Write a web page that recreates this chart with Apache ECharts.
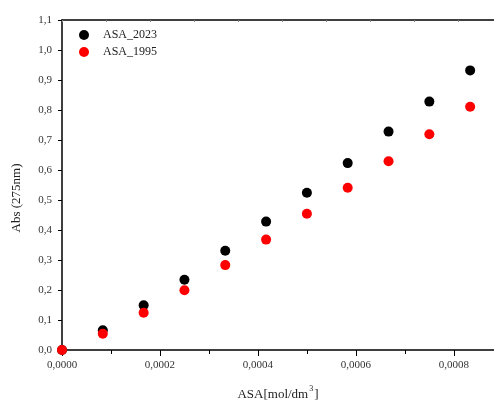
<!DOCTYPE html>
<html lang="en">
<head>
    <meta charset="utf-8">
    <title>ASA Abs</title>
    <script src="https://cdn.jsdelivr.net/npm/echarts@6/dist/echarts.min.js"></script>
    <style>
        html, body { margin: 0; padding: 0; background: #fff; overflow: hidden; }
        #main { width: 494px; height: 400px; }
    </style>
</head>
<body>
    <div id="main"></div>
    <script type="text/javascript">
    // concentrations, mol/dm3
    var conc = [0, 0.0000833, 0.0001667, 0.00025, 0.0003333, 0.0004167, 0.0005, 0.0005833, 0.0006667, 0.00075, 0.0008333];
    // absorbance at 275nm
    var asa2023 = [0, 0.066, 0.149, 0.234, 0.331, 0.428, 0.524, 0.623, 0.728, 0.828, 0.932];
    var asa1995 = [0, 0.054, 0.124, 0.199, 0.283, 0.368, 0.454, 0.541, 0.629, 0.719, 0.811];
    var names = ['ASA_2023', 'ASA_1995'];

    var font = 'Liberation Serif';

    function pairs(xs, ys) {
        var out = [];
        for (var i = 0; i < xs.length; i++) out.push([xs[i], ys[i]]);
        return out;
    }

    var myChart = echarts.init(document.getElementById('main'));

    myChart.setOption({
        animation: false,
        grid: { left: 62, top: 20, right: 0, bottom: 50, outerBoundsMode: 'none', containLabel: false },
        legend: {
            data: names,
            orient: 'vertical',
            left: 74,
            top: 24,
            itemWidth: 28,
            itemHeight: 10,
            itemGap: 5,
            icon: 'circle',
            textStyle: { fontFamily: font, fontSize: 12, color: '#222' }
        },
        xAxis: [{
            type: 'value',
            min: 0,
            max: 0.000882,
            interval: 0.0002,
            name: '{a|ASA[mol/dm}{s|3}{a|]}',
            nameLocation: 'middle',
            nameGap: 35,
            nameTextStyle: {
                rich: {
                    a: { fontFamily: font, fontSize: 13, color: '#222' },
                    s: { fontFamily: font, fontSize: 8, color: '#222', padding: [0, 1, 12, 1] }
                }
            },
            splitLine: { show: false },
            axisLine: { onZero: false, lineStyle: { color: '#000', width: 1.5 } },
            axisTick: { length: 6, lineStyle: { color: '#000' } },
            minorTick: { show: true, splitNumber: 2, length: 4, lineStyle: { color: '#000' } },
            axisLabel: {
                margin: 10,
                fontFamily: font, fontSize: 11, color: '#333',
                showMaxLabel: false,
                formatter: function (v) { return v.toFixed(4).replace('.', ','); }
            }
        }, {
            type: 'value',
            position: 'top',
            min: 0,
            max: 9.818,
            interval: 1,
            splitLine: { show: false },
            axisLine: { onZero: false, lineStyle: { color: '#000', width: 1.5 } },
            axisTick: { inside: true, length: 2, lineStyle: { color: '#888' } },
            axisLabel: { show: false }
        }],
        yAxis: {
            type: 'value',
            min: 0,
            max: 1.1,
            interval: 0.1,
            splitLine: { show: false },
            axisLine: { onZero: false, lineStyle: { color: '#000', width: 1.5 } },
            axisTick: { length: 4, lineStyle: { color: '#000' } },
            axisLabel: {
                margin: 10,
                fontFamily: font, fontSize: 11, color: '#333',
                formatter: function (v) { return v.toFixed(1).replace('.', ','); }
            }
        },
        graphic: [{
            type: 'text',
            x: 17,
            y: 198,
            rotation: Math.PI / 2,
            style: {
                text: 'Abs (275nm)',
                fontFamily: font,
                fontSize: 13,
                fill: '#222',
                textAlign: 'center',
                textVerticalAlign: 'middle'
            }
        }],
        series: [{
            name: names[0],
            type: 'scatter',
            symbol: 'circle',
            symbolSize: 10,
            itemStyle: { color: '#000', opacity: 1 },
            data: pairs(conc, asa2023)
        }, {
            name: names[1],
            type: 'scatter',
            symbol: 'circle',
            symbolSize: 10,
            itemStyle: { color: '#ff0000', opacity: 1 },
            data: pairs(conc, asa1995)
        }]
    });
    </script>
</body>
</html>
